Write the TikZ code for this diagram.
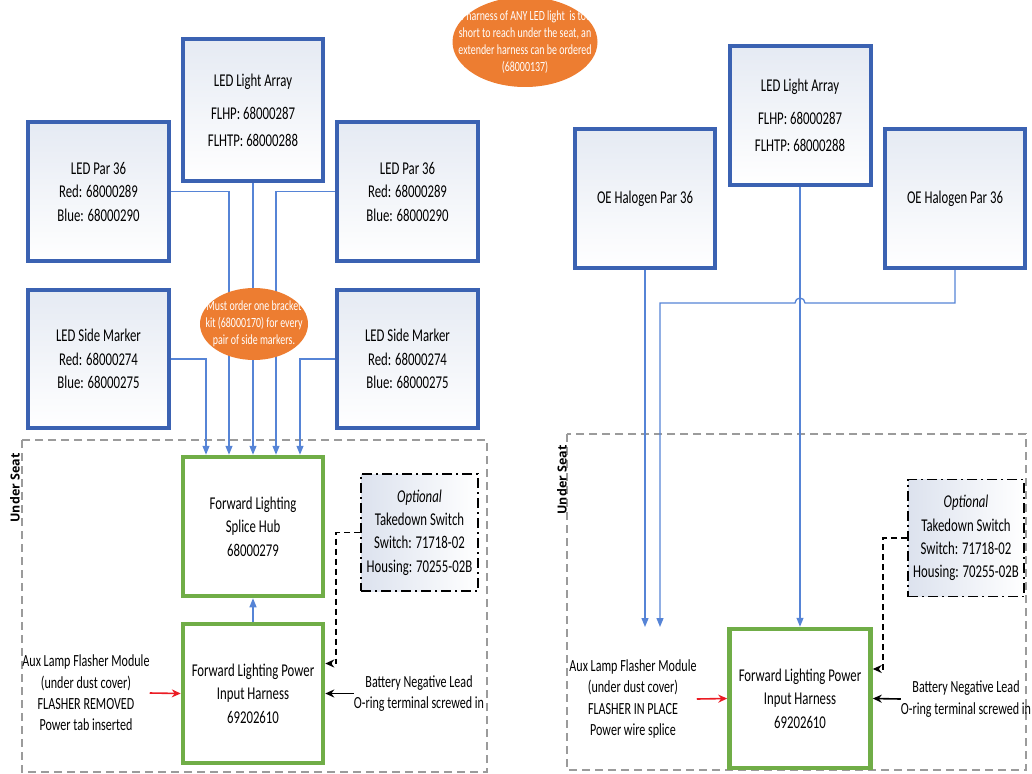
\documentclass[tikz,border=0pt]{standalone}
\usepackage{fontspec}
\setmainfont{Carlito}[FakeStretch=0.71]
\newfontfamily\seatfont{Open Sans}
\usetikzlibrary{arrows.meta,calc,shapes.geometric}

\definecolor{boxblue}{RGB}{59,98,178}
\definecolor{boxtint}{RGB}{229,234,243}
\definecolor{wireblue}{RGB}{86,132,214}
\definecolor{hubgreen}{RGB}{112,173,71}
\definecolor{noteorange}{RGB}{237,125,49}
\definecolor{seatgray}{RGB}{155,155,155}
\definecolor{opttint}{RGB}{220,226,238}
\definecolor{flashred}{RGB}{235,28,36}

\begin{document}
\begin{tikzpicture}[
  x=1pt, y=-1pt,
  every node/.style={inner sep=0pt},
  lamp/.style={draw=boxblue, line width=4pt, top color=boxtint, bottom color=white,
               minimum width=141pt, minimum height=139pt, align=center,
               font=\fontsize{18}{23.5}\selectfont},
  hubbox/.style={draw=hubgreen, line width=4.5pt, fill=white,
                 minimum width=140pt, minimum height=139pt, align=center,
                 font=\fontsize{18}{23.5}\selectfont},
  optbox/.style={draw=black, line width=1.8pt,
                 dash pattern=on 10pt off 4pt on 2pt off 4pt,
                 left color=opttint, right color=white,
                 minimum width=117pt, minimum height=117pt, align=center,
                 font=\fontsize{18}{23.4}\selectfont},
  side/.style={align=center, font=\fontsize{17}{21.3}\selectfont},
  note/.style={ellipse, fill=noteorange},
  notetxt/.style={align=center, text=white, font=\fontsize{14}{16.8}\selectfont},
  seat/.style={draw=seatgray, line width=1.2pt, dash pattern=on 8pt off 5pt},
  seattag/.style={font=\seatfont\bfseries\fontsize{12.5}{14}\selectfont, rotate=90},
  wire/.style={draw=wireblue, line width=1.3pt, -{Triangle[length=9pt,width=7pt]}},
  feed/.style={line width=1.6pt, -{Stealth[length=9pt,width=8pt]}},
  sw/.style={feed, dash pattern=on 6pt off 4pt},
]
\useasboundingbox (0,0) rectangle (1032,773);

% =============================================================== left: LED kit
\draw[seat] (22,440) rectangle (487,772);
\node[seattag] (seatL) at (15,488) {Under Seat};

\node[lamp, minimum width=140pt, minimum height=142pt,
      font=\fontsize{18}{27}\selectfont] (arrL) at (253,110)
  {LED Light Array\\[6pt]FLHP: 68000287\\FLHTP: 68000288};
\node[lamp] (parL) at (98.5,191.5) {LED Par 36\\Red: 68000289\\Blue: 68000290};
\node[lamp] (parR) at (407.5,191.5) {LED Par 36\\Red: 68000289\\Blue: 68000290};
\node[lamp, minimum height=138pt] (sideL) at (98.5,359)
  {LED Side Marker\\Red: 68000274\\Blue: 68000275};
\node[lamp, minimum height=138pt] (sideR) at (407.5,359)
  {LED Side Marker\\Red: 68000274\\Blue: 68000275};

\node[hubbox] (hub) at (253,526.5) {Forward Lighting\\Splice Hub\\68000279};
\node[hubbox] (hpL) at (253,693.5) {Forward Lighting Power\\Input Harness\\69202610};
\node[optbox] (optL) at (419.5,532.5)
  {\textit{Optional}\\Takedown Switch\\Switch: 71718-02\\Housing: 70255-02B};

\node[side] (auxL) at (86,693)
  {Aux Lamp Flasher Module\\(under dust cover)\\FLASHER REMOVED\\Power tab inserted};
\node[side] (battL) at (419,693.5) {Battery Negative Lead\\O-ring terminal screwed in};

\foreach \src/\dx in {sideL.east/-47, parL.east/-24, arrL.south/0,
                      parR.west/23, sideR.west/47}
  \draw[wire] (\src) -| ([xshift=\dx pt]hub.north);
\draw[wire] (hpL) -- (hub);

\draw[feed, draw=flashred] (auxL.east) -- (hpL.west);
\draw[feed] (battL.west) -- (hpL.east);
\draw[sw] (optL.west) -- ++(-24,0) |- ([yshift=30pt]hpL.east);

% --- notes ---
\node[note, minimum width=108pt, minimum height=72pt] (bracket) at (254,324) {};
\node[notetxt] at (bracket)
  {Must order one bracket\\kit (68000170) for every\\pair of side markers.};

\node[note, minimum width=145pt, minimum height=90pt] (extender) at (525,42) {};
\node[notetxt] at (extender)
  {If harness of ANY LED light\ \ is too\\short to reach under the seat, an\\
   extender harness can be ordered\\(68000137)};

% =============================================================== right: OE halogen
\draw[seat] (567,434) rectangle (1026,770);
\node[seattag] (seatR) at (562,480) {Under Seat};

\node[lamp, minimum width=141pt,
      font=\fontsize{18}{27}\selectfont] (arrR) at (800,115.5)
  {LED Light Array\\[6pt]FLHP: 68000287\\FLHTP: 68000288};
\node[lamp, minimum width=140pt] (oeL) at (645,198.5) {OE Halogen Par 36};
\node[lamp, minimum width=140pt] (oeR) at (955,198.5) {OE Halogen Par 36};

\node[hubbox, minimum width=141pt] (hpR) at (800,698.5)
  {Forward Lighting Power\\Input Harness\\69202610};
\node[optbox, minimum width=116pt] (optR) at (966,538)
  {\textit{Optional}\\Takedown Switch\\Switch: 71718-02\\Housing: 70255-02B};

\node[side] (auxR) at (633,699)
  {Aux Lamp Flasher Module\\(under dust cover)\\FLASHER IN PLACE\\Power wire splice};
\node[side] (battR) at (966,699) {Battery Negative Lead\\O-ring terminal screwed in};

\coordinate (endA) at (645,627);
\coordinate (endB) at (660,627);
\coordinate (hop) at (805,303);

\draw[wire] (oeL.south) -- (endA);
\draw[wire] (oeR.south) |- (hop) arc[start angle=0, end angle=180, radius=5pt] -| (endB);
\draw[wire] (arrR) -- (hpR);

\draw[feed, draw=flashred] (auxR.east) -- (hpR.west);
\draw[feed] (battR.west) -- (hpR.east);
\draw[sw] (optR.west) -- ++(-24,0) |- ([yshift=29.5pt]hpR.east);

\end{tikzpicture}
\end{document}
